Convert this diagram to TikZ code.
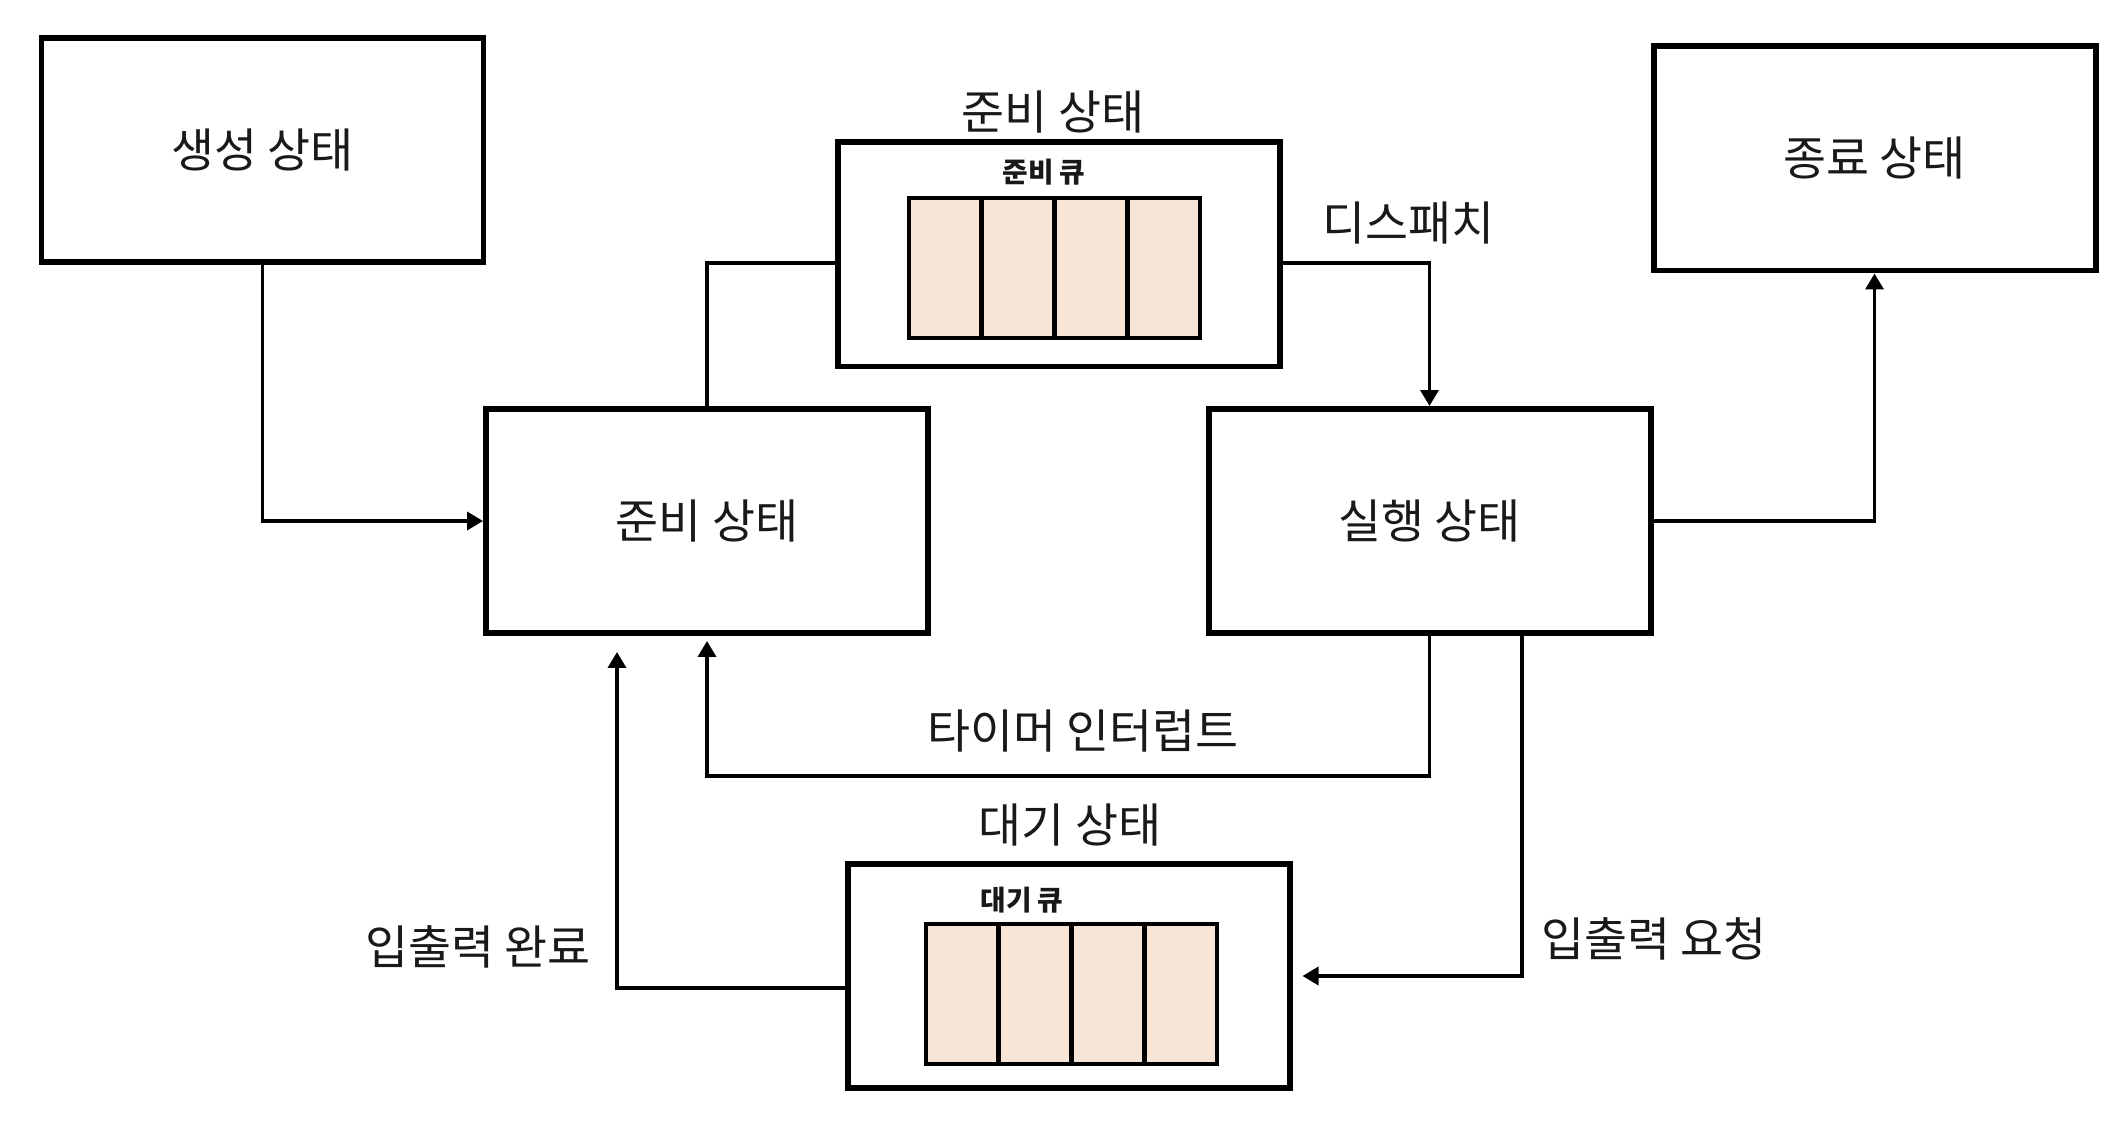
\documentclass[tikz,border=0pt]{standalone}
\usepackage{fontspec}
\setmainfont{Noto Sans CJK KR}
\usetikzlibrary{arrows.meta}

\definecolor{qfill}{RGB}{246,228,214}

\begin{document}
\begin{tikzpicture}[>={Triangle[length=1.6mm,width=1.8mm]}]
   \useasboundingbox (0,0) rectangle (21.22,11.2);
   \begin{scope}[every node/.style={draw=black,line width=1.7pt,minimum width=4.42cm,minimum height=2.24cm,text=black!90,font=\fontsize{13.3}{15}\selectfont}]
    \node (create) at (2.625,9.70) {생성 상태};
    \node (readyq) at (10.585,8.655) {};
    \node (ready) at (7.07,5.99) {준비 상태};
    \node (run) at (14.295,5.99) {실행 상태};
    \node (term) at (18.745,9.615) {종료 상태};
    \node (waitq) at (10.685,1.44) {};
   \end{scope}
   \begin{scope}[every node/.style={draw=black,fill=qfill,line width=1.1pt,minimum width=0.7275cm,minimum height=1.40cm,inner sep=0pt}]
    \node (rq1) at (9.45,8.52) {};
    \node (rq2) at (10.18,8.52) {};
    \node (rq3) at (10.91,8.52) {};
    \node (rq4) at (11.64,8.52) {};
    \node (wq1) at (9.62,1.26) {};
    \node (wq2) at (10.35,1.26) {};
    \node (wq3) at (11.08,1.26) {};
    \node (wq4) at (11.81,1.26) {};
   \end{scope}
   \begin{scope}[every node/.style={text=black!90,font=\fontsize{13.3}{15}\selectfont}]
    \node (readyt) at (10.53,10.08) {준비 상태};
    \node (waitt) at (10.70,2.95) {대기 상태};
    \node (dispt) at (14.08,8.97) {디스패치};
    \node (timert) at (10.83,3.89) {타이머 인터럽트};
    \node (iorqt) at (16.54,1.81) {입출력 요청};
    \node (iodnt) at (4.78,1.73) {입출력 완료};
   \end{scope}
   \begin{scope}[every node/.style={text=black!90,font=\fontsize{7.9}{9}\selectfont\bfseries}]
    \node (rql) at (10.44,9.48) {준비 큐};
    \node (wql) at (10.22,2.20) {대기 큐};
   \end{scope}
   \begin{scope}[line width=1pt]
    \draw[->] (create.south) |- (ready.west);
    \draw (ready.north) |- ([yshift=-0.85mm]readyq.west);
    \draw[->] ([yshift=-0.85mm]readyq.east) -| (run.north);
    \draw[->] (run.east) -| (term.south);
    \draw[->] (run.south) -- ++(0,-1.4) -| ([yshift=-0.5mm]ready.south);
    \draw[->] ([xshift=9.25mm]run.south) |- ([xshift=1mm]waitq.east);
    \draw[->] ([yshift=-1.2mm]waitq.west) -| ([xshift=-9mm,yshift=-1.6mm]ready.south);
   \end{scope}
\end{tikzpicture}
\end{document}
